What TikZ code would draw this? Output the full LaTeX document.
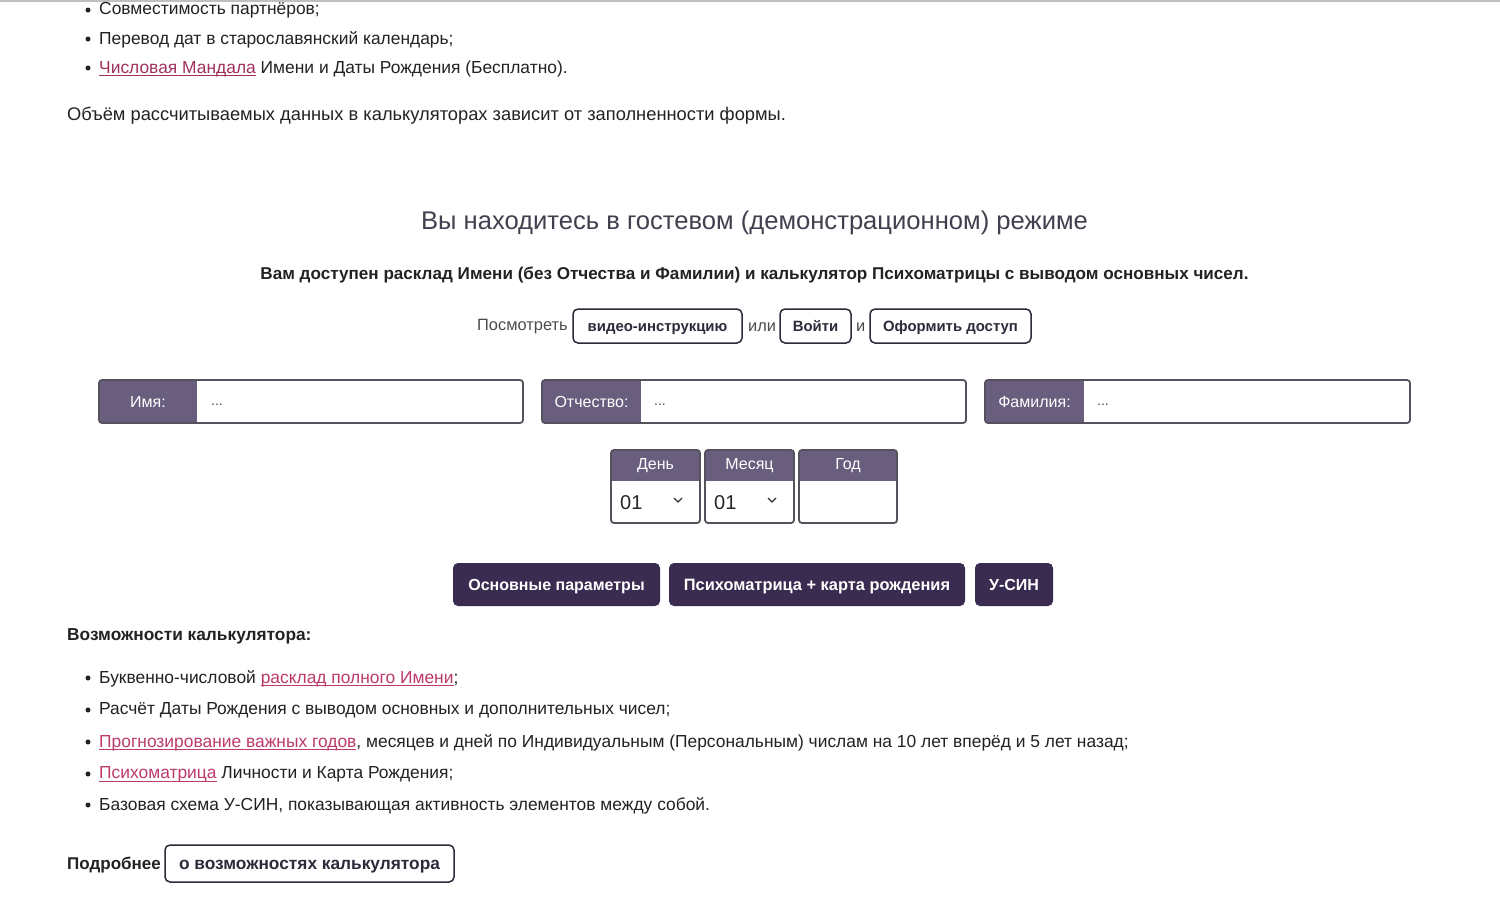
\documentclass[tikz,border=0pt]{standalone}
\usepackage{fontspec}
\setmainfont{Liberation Sans}
\definecolor{txtc}{HTML}{222222}
\definecolor{linkc}{HTML}{BE3A6C}
\definecolor{labc}{HTML}{695E7E}
\definecolor{btnc}{HTML}{3A2B50}
\definecolor{bordc}{HTML}{2F2A3A}
\definecolor{inbc}{HTML}{55525E}
\newcommand{\lnk}[1]{{\color{linkc}\setbox0\hbox{#1}\rlap{\rule[-2.8pt]{\wd0}{0.9pt}}\box0}}
\tikzset{
  tx/.style={anchor=west, inner sep=0, text=txtc, font=\fontsize{17.4}{20}\selectfont},
  capc/.style={text height=#1, text depth=0pt},
  obtn/.style={draw=bordc, line width=1.5pt, rounded corners=5pt, inner sep=0, minimum height=34pt, text=bordc, font=\fontsize{14.9}{18}\selectfont\bfseries, capc=10.7pt},
  dbtn/.style={fill=btnc, rounded corners=5pt, inner sep=0, minimum height=43pt, text=white, font=\fontsize{16}{19}\selectfont\bfseries, capc=11.5pt},
  lbl/.style={inner sep=0, text=white, font=\fontsize{16}{19}\selectfont, capc=11.5pt},
  ph/.style={anchor=west, inner sep=0, text=black!70, font=\fontsize{14}{17}\selectfont},
  inbox/.style={draw=inbc, line width=1.8pt, rounded corners=3pt},
  bul/.style={fill=txtc},
}
\begin{document}
\begin{tikzpicture}[x=1pt,y=-1pt]
\useasboundingbox (0,0) rectangle (1500,908);
\fill[white] (0,0) rectangle (1500,908);
\draw[black!25, line width=1.5pt] (0,0.75) -- (1500,0.75);

% top list
\fill[bul] (88,10) circle (2.5pt);
\node[tx] (t1) at (99,10.5) {Совместимость партнёров;};
\fill[bul] (88,39) circle (2.5pt);
\node[tx] (t2) at (99,39.5) {Перевод дат в старославянский календарь;};
\fill[bul] (88,68) circle (2.5pt);
\node[tx] (t3) at (99,68.5) {{\colorlet{linkc}{linkc!85!black}\lnk{Числовая Мандала}} Имени и Даты Рождения (Бесплатно).};

\node[tx, font=\fontsize{18.3}{21}\selectfont] (p1) at (67,115.5) {Объём рассчитываемых данных в калькуляторах зависит от заполненности формы.};

% title
\node[inner sep=0, text=bordc!90, font=\fontsize{25.6}{30}\selectfont] (title) at (754.5,223) {Вы находитесь в гостевом (демонстрационном) режиме};
\node[inner sep=0, text=txtc, font=\fontsize{17.1}{20}\selectfont\bfseries] (sub) at (754.5,274.5) {Вам доступен расклад Имени (без Отчества и Фамилии) и калькулятор Психоматрицы с выводом основных чисел.};

% buttons row
\node[tx, text=black!70, font=\fontsize{16.4}{19}\selectfont] (see) at (477,327) {Посмотреть};
\node[obtn, minimum width=169pt] (vid) at (657.5,326) {видео-инструкцию};
\node[tx, text=black!70, font=\fontsize{16.4}{19}\selectfont] (or) at (748,327) {или};
\node[obtn, minimum width=71pt] (login) at (815.5,326) {Войти};
\node[tx, text=black!70, font=\fontsize{16.4}{19}\selectfont] (and) at (856,327) {и};
\node[obtn, minimum width=161pt] (acc) at (950.5,326) {Оформить доступ};

% inputs
\begin{scope}
\clip[rounded corners=3pt] (99,380) rectangle (523,423);
\fill[labc] (99,380) rectangle (197,423);
\end{scope}
\draw[inbox] (99,380) rectangle (523,423);
\node[lbl] (l1) at (148,401.5) {Имя:};
\node[ph] (p1a) at (211,405) {...};

\begin{scope}
\clip[rounded corners=3pt] (542,380) rectangle (966,423);
\fill[labc] (542,380) rectangle (641,423);
\end{scope}
\draw[inbox] (542,380) rectangle (966,423);
\node[lbl] (l2) at (591.5,401.5) {Отчество:};
\node[ph] (p2a) at (654,405) {...};

\begin{scope}
\clip[rounded corners=3pt] (985,380) rectangle (1410,423);
\fill[labc] (985,380) rectangle (1084,423);
\end{scope}
\draw[inbox] (985,380) rectangle (1410,423);
\node[lbl] (l3) at (1034.5,401.5) {Фамилия:};
\node[ph] (p3a) at (1097,405) {...};

% date boxes
\begin{scope}
\clip[rounded corners=3pt] (611,450) rectangle (700,523);
\fill[labc] (611,450) rectangle (700,481);
\end{scope}
\draw[inbox] (611,450) rectangle (700,523);
\node[lbl] (dd) at (655.5,464) {День};
\node[tx, text=black!85, font=\fontsize{20}{24}\selectfont] (dv) at (620,503) {01};
\draw[black!80, line width=1.3pt] (674,498) -- (678,502) -- (682,498);

\begin{scope}
\clip[rounded corners=3pt] (705,450) rectangle (794,523);
\fill[labc] (705,450) rectangle (794,481);
\end{scope}
\draw[inbox] (705,450) rectangle (794,523);
\node[lbl] (mm) at (749.5,464) {Месяц};
\node[tx, text=black!85, font=\fontsize{20}{24}\selectfont] (mv) at (714,503) {01};
\draw[black!80, line width=1.3pt] (768,498) -- (772,502) -- (776,498);

\begin{scope}
\clip[rounded corners=3pt] (799,450) rectangle (897,523);
\fill[labc] (799,450) rectangle (897,481);
\end{scope}
\draw[inbox] (799,450) rectangle (897,523);
\node[lbl] (yy) at (848,464) {Год};

% dark buttons
\node[dbtn, minimum width=207pt] (b1) at (556.5,584.5) {Основные параметры};
\node[dbtn, minimum width=296pt, font=\fontsize{16.4}{19}\selectfont\bfseries, capc=11.7pt] (b2) at (817,584.5) {Психоматрица + карта рождения};
\node[dbtn, minimum width=78pt] (b3) at (1014,584.5) {У-СИН};

% features
\node[tx, font=\fontsize{17.3}{20}\selectfont\bfseries] (feat) at (67,636.5) {Возможности калькулятора:};
\fill[bul] (88,678) circle (2.5pt);
\node[tx] (f1) at (99,678.5) {Буквенно-числовой \lnk{расклад полного Имени};};
\fill[bul] (88,710) circle (2.5pt);
\node[tx] (f2) at (99,710.5) {Расчёт Даты Рождения с выводом основных и дополнительных чисел;};
\fill[bul] (88,742) circle (2.5pt);
\node[tx] (f3) at (99,742.5) {\lnk{Прогнозирование важных годов}, месяцев и дней по Индивидуальным (Персональным) числам на 10 лет вперёд и 5 лет назад;};
\fill[bul] (88,774) circle (2.5pt);
\node[tx] (f4) at (99,774.5) {\lnk{Психоматрица} Личности и Карта Рождения;};
\fill[bul] (88,805) circle (2.5pt);
\node[tx] (f5) at (99,805.5) {Базовая схема У-СИН, показывающая активность элементов между собой.};

\node[tx, font=\fontsize{17}{20}\selectfont\bfseries, capc=12.2pt] (more) at (67,863) {Подробнее};
\node[obtn, minimum width=289pt, minimum height=37pt, font=\fontsize{17.3}{20}\selectfont\bfseries, capc=12.4pt] (mb) at (309.5,863.5) {о возможностях калькулятора};
\end{tikzpicture}
\end{document}
